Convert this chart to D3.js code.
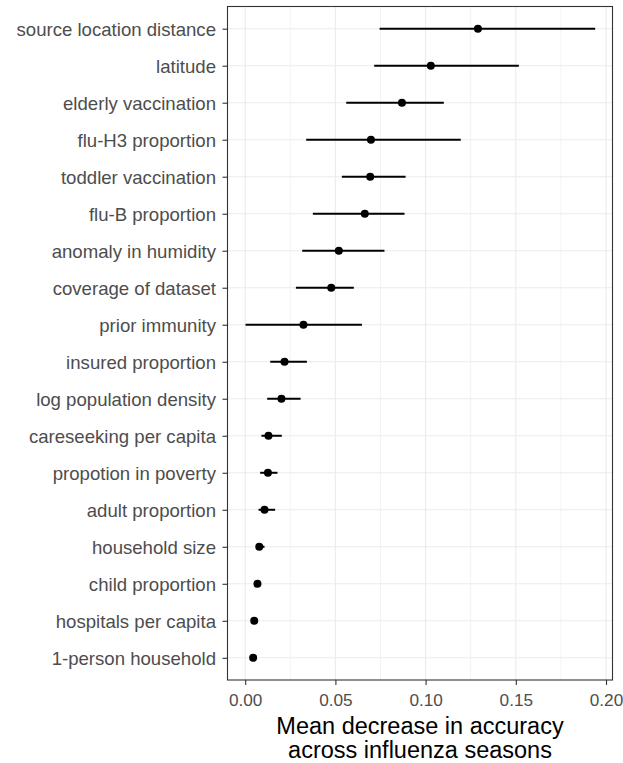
<!DOCTYPE html>
<html>
<head>
<meta charset="utf-8">
<script src="https://cdn.jsdelivr.net/npm/d3@7"></script>
<style>
  html, body { margin: 0; padding: 0; background: #fff; }
  svg { display: block; }
</style>
</head>
<body>
<svg id="chart" width="623" height="763"></svg>
<script>
// Predictors, ordered from most to least important
const features = [
  "source location distance", "latitude", "elderly vaccination", "flu-H3 proportion",
  "toddler vaccination", "flu-B proportion", "anomaly in humidity", "coverage of dataset",
  "prior immunity", "insured proportion", "log population density", "careseeking per capita",
  "propotion in poverty", "adult proportion", "household size", "child proportion",
  "hospitals per capita", "1-person household"
];
// Mean decrease in accuracy and its interval across seasons
const meanDecrease = [0.129, 0.1029, 0.0869, 0.0697, 0.0693, 0.0663, 0.0519, 0.0477,
  0.0323, 0.0218, 0.0201, 0.0129, 0.0126, 0.0107, 0.0078, 0.0068, 0.0050, 0.0044];
const lowerBound = [0.0745, 0.0715, 0.056, 0.0338, 0.0536, 0.0375, 0.0316, 0.0281,
  0.0002, 0.0139, 0.0122, 0.0090, 0.0083, 0.0074, 0.0060, 0.0058, 0.0045, 0.0040];
const upperBound = [0.194, 0.1517, 0.1101, 0.1195, 0.0889, 0.0883, 0.0772, 0.0602,
  0.0647, 0.0342, 0.0307, 0.0203, 0.0179, 0.0166, 0.0107, 0.0078, 0.0056, 0.0050];
const xTicks = [0, 0.05, 0.10, 0.15, 0.20];
const xMinorTicks = [0.025, 0.075, 0.125, 0.175];

const svg = d3.select("#chart");
const panel = { left: 227.5, right: 612.5, top: 6.5, bottom: 680 };

const x = d3.scaleLinear().domain([-0.00981, 0.2036]).range([panel.left, panel.right]);
const y = d3.scalePoint().domain(features).range([panel.top, panel.bottom]).padding(0.6);

const g = svg.append("g");

// panel background
g.append("rect")
  .attr("x", panel.left).attr("y", panel.top)
  .attr("width", panel.right - panel.left).attr("height", panel.bottom - panel.top)
  .attr("fill", "#fff");

// minor vertical grid
g.selectAll("line.minor").data(xMinorTicks).join("line")
  .attr("x1", d => x(d)).attr("x2", d => x(d))
  .attr("y1", panel.top).attr("y2", panel.bottom)
  .attr("stroke", "#EBEBEB").attr("stroke-width", 0.6);

// major vertical grid
g.selectAll("line.vmajor").data(xTicks).join("line")
  .attr("x1", d => x(d)).attr("x2", d => x(d))
  .attr("y1", panel.top).attr("y2", panel.bottom)
  .attr("stroke", "#EBEBEB").attr("stroke-width", 1.1);

// horizontal grid per feature
g.selectAll("line.hmajor").data(features).join("line")
  .attr("x1", panel.left).attr("x2", panel.right)
  .attr("y1", d => y(d)).attr("y2", d => y(d))
  .attr("stroke", "#EBEBEB").attr("stroke-width", 1.1);

// interval ranges
g.selectAll("line.range").data(features).join("line")
  .attr("x1", (d, i) => x(lowerBound[i])).attr("x2", (d, i) => x(upperBound[i]))
  .attr("y1", d => y(d)).attr("y2", d => y(d))
  .attr("stroke", "#000").attr("stroke-width", 2);

// means
g.selectAll("circle").data(features).join("circle")
  .attr("cx", (d, i) => x(meanDecrease[i])).attr("cy", d => y(d))
  .attr("r", 4).attr("fill", "#000");

// panel border
g.append("rect")
  .attr("x", panel.left).attr("y", panel.top)
  .attr("width", panel.right - panel.left).attr("height", panel.bottom - panel.top)
  .attr("fill", "none").attr("stroke", "#333").attr("stroke-width", 1.1);

const font = "'Liberation Sans', Arial, sans-serif";

// y axis
const yAxis = svg.append("g")
  .attr("transform", `translate(${panel.left},0)`)
  .call(d3.axisLeft(y).tickSize(5).tickPadding(6.5));
yAxis.select(".domain").remove();
yAxis.selectAll(".tick line").attr("stroke", "#333").attr("stroke-width", 1.1);
yAxis.selectAll(".tick text")
  .attr("dy", "0.36em")
  .attr("fill", "#4D4D4D").style("font-family", font).style("font-size", "18.6px");

// x axis
const xAxis = svg.append("g")
  .attr("transform", `translate(0,${panel.bottom})`)
  .call(d3.axisBottom(x).tickValues(xTicks).tickFormat(d3.format(".2f")).tickSize(5).tickPadding(8.5));
xAxis.select(".domain").remove();
xAxis.selectAll(".tick line").attr("stroke", "#333").attr("stroke-width", 1.1);
xAxis.selectAll(".tick text")
  .attr("fill", "#4D4D4D").style("font-family", font).style("font-size", "17.2px");

// x axis title
const cx = (panel.left + panel.right) / 2;
const title = svg.append("text")
  .attr("text-anchor", "middle")
  .style("font-family", font).style("font-size", "23.5px").attr("fill", "#000");
title.append("tspan").attr("x", cx).attr("y", 734).text("Mean decrease in accuracy");
title.append("tspan").attr("x", cx).attr("y", 758).text("across influenza seasons");
</script>
</body>
</html>
